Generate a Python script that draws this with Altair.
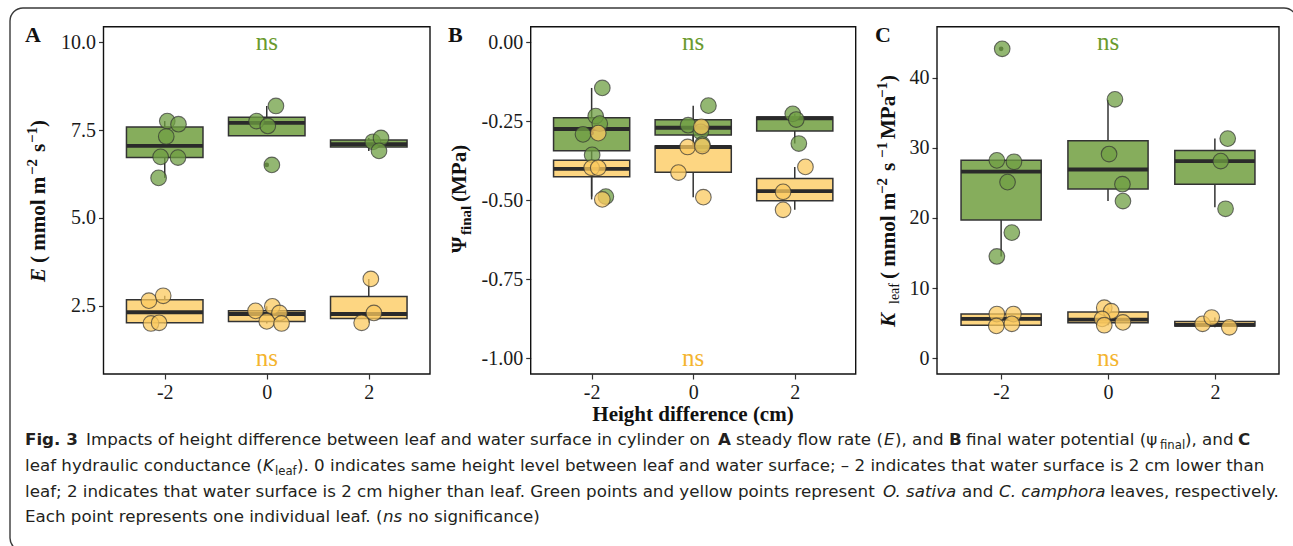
import altair as alt
import pandas as pd

W, H = 1293, 546
PLOT_TOP, PLOT_BOTTOM = 26.7, 374.0

GROUPS = [-2, 0, 2]
SPECIES = ["O. sativa", "C. camphora"]
BOX_FILL = ["#86ad5c", "#fdd682"]
POINT_FILL = ["#6f9f43", "#fbc95f"]
NS_GREEN, NS_YELLOW = "#6a9a2e", "#f4b42f"
LINE = "#333333"

BOX_GROUP = [-2, 0, 2, -2, 0, 2]
BOX_SPECIES = ["O. sativa"] * 3 + ["C. camphora"] * 3
BOX_HALF_WIDTH = 0.75

# ---------------- Panel A : E ----------------
A_LO = [6.14, 7.34, 6.91, 1.99, 1.99, 2.01]
A_Q1 = [6.72, 7.34, 7.02, 2.01, 2.05, 2.13]
A_MED = [7.05, 7.71, 7.10, 2.31, 2.26, 2.26]
A_Q3 = [7.59, 7.87, 7.22, 2.67, 2.35, 2.76]
A_HI = [7.76, 8.19, 7.28, 2.78, 2.48, 3.26]
A_PT_GROUP = [-2] * 6 + [0] * 4 + [2] * 3 + [-2] * 4 + [0] * 5 + [2] * 3
A_PT_SPECIES = ["O. sativa"] * 13 + ["C. camphora"] * 12
A_PT_JITTER = [0.05, 0.27, 0.03, -0.08, 0.26, -0.12, -0.20, 0.02, 0.18, 0.10, 0.08, 0.24, 0.20,
               -0.31, -0.03, -0.27, -0.11, -0.22, 0.11, 0.25, 0.0, 0.29, 0.04, 0.10, -0.14]
A_PT_VALUE = [7.76, 7.67, 7.32, 6.74, 6.72, 6.14, 7.76, 7.62, 8.19, 6.51, 7.17, 7.28, 6.91,
              2.64, 2.78, 1.99, 2.01, 2.35, 2.48, 2.29, 2.05, 1.99, 3.26, 2.29, 2.01]
A_OUT_GROUP = [0]
A_OUT_VALUE = [6.51]
A_TICKS = [2.5, 5.0, 7.5, 10.0]
A_NS = [10.0, 1.0]
A_DOMAIN = [0.55, 10.45]

# ---------------- Panel B : psi final ----------------
B_LO = [-0.488, -0.323, -0.320, -0.497, -0.490, -0.530]
B_Q1 = [-0.343, -0.293, -0.280, -0.425, -0.411, -0.501]
B_MED = [-0.274, -0.270, -0.240, -0.400, -0.331, -0.471]
B_Q3 = [-0.238, -0.245, -0.236, -0.373, -0.328, -0.431]
B_HI = [-0.144, -0.200, -0.226, -0.373, -0.267, -0.394]
B_PT_GROUP = [-2] * 6 + [0] * 4 + [2] * 3 + [-2] * 4 + [0] * 5 + [2] * 3
B_PT_SPECIES = ["O. sativa"] * 13 + ["C. camphora"] * 12
B_PT_JITTER = [0.21, 0.08, 0.16, -0.17, 0.01, 0.28, -0.10, 0.30, 0.15, 0.18, -0.04, 0.03, 0.08,
               0.0, 0.13, 0.13, 0.21, 0.16, -0.11, 0.18, -0.29, 0.20, 0.21, -0.23, -0.23]
B_PT_VALUE = [-0.144, -0.233, -0.257, -0.291, -0.356, -0.488, -0.262, -0.200, -0.283, -0.323,
              -0.226, -0.244, -0.320,
              -0.397, -0.397, -0.287, -0.497, -0.267, -0.331, -0.328, -0.412, -0.490,
              -0.394, -0.473, -0.530]
B_OUT_GROUP = [-2]
B_OUT_VALUE = [-0.287]
B_TICKS = [-1.0, -0.75, -0.5, -0.25, 0.0]
B_NS = [0.0, -1.0]
B_DOMAIN = [-1.05, 0.05]

# ---------------- Panel C : K leaf ----------------
C_LO = [14.5, 22.4, 21.5, 4.6, 4.7, 4.4]
C_Q1 = [19.7, 24.1, 24.8, 4.7, 5.05, 4.6]
C_MED = [26.6, 26.9, 28.1, 5.6, 5.5, 4.75]
C_Q3 = [28.2, 31.0, 29.6, 6.3, 6.6, 5.25]
C_HI = [28.2, 36.8, 31.3, 6.3, 7.2, 5.8]
C_PT_GROUP = [-2] * 6 + [0] * 4 + [2] * 3 + [-2] * 4 + [0] * 5 + [2] * 3
C_PT_SPECIES = ["O. sativa"] * 13 + ["C. camphora"] * 12
C_PT_JITTER = [0.02, -0.08, 0.24, 0.12, 0.20, -0.08, 0.13, 0.02, 0.27, 0.28, 0.24, 0.11, 0.20,
               -0.08, 0.23, -0.09, 0.20, -0.07, 0.06, -0.11, -0.07, 0.28, -0.23, -0.06, 0.27]
C_PT_VALUE = [44.1, 28.2, 28.0, 25.1, 17.9, 14.5, 36.9, 29.1, 24.8, 22.4, 31.3, 28.1, 21.3,
              6.3, 6.3, 4.6, 4.9, 7.2, 6.7, 5.6, 4.7, 5.1, 4.9, 5.8, 4.4]
C_OUT_GROUP = [-2]
C_OUT_VALUE = [44.1]
C_TICKS = [0, 10, 20, 30, 40]
C_NS = [45.0, 0.0]
C_DOMAIN = [-2.25, 47.25]

SERIF = "Liberation Serif"
CAP_FONT = "DejaVu Sans"
CAP_SIZE = 16.7
CAP_SUB = 11.7


def panel(lo, q1, med, q3, hi, pg, ps, pj, pv, og, ov, x_range, y_domain, y_ticks, y_expr, ns):
    box = pd.DataFrame({"group": BOX_GROUP, "species": BOX_SPECIES, "lo": lo, "q1": q1,
                        "med": med, "q3": q3, "hi": hi})
    box["x_lo"] = box["group"] - BOX_HALF_WIDTH
    box["x_hi"] = box["group"] + BOX_HALF_WIDTH
    pts = pd.DataFrame({"group": pg, "species": ps, "jitter": pj, "value": pv})
    pts["xpos"] = pts["group"] + pts["jitter"]
    outs = pd.DataFrame({"group": og, "value": ov})
    frame = pd.DataFrame({"x0": [-3.2], "x1": [3.2], "y0": [y_domain[0]], "y1": [y_domain[1]]})
    ns_df = pd.DataFrame({"x": [0, 0], "value": ns, "label": ["ns", "ns"]})

    xs = alt.Scale(domain=[-3.2, 3.2], range=x_range, nice=False, zero=False)
    ys = alt.Scale(domain=y_domain, range=[PLOT_BOTTOM, PLOT_TOP], nice=False, zero=False)
    ax_x = alt.Axis(values=GROUPS, labelExpr="'' + datum.value", orient="bottom",
                    offset=PLOT_BOTTOM - H, title=None, domain=False, grid=False)
    ax_y = alt.Axis(values=y_ticks, labelExpr=y_expr, orient="left", offset=-x_range[0],
                    title=None, domain=False, grid=False)

    def X(f):
        return alt.X(f, type="quantitative", scale=xs, axis=ax_x)

    def Y(f):
        return alt.Y(f, type="quantitative", scale=ys, axis=ax_y)

    whisk = alt.Chart(box).mark_rule(color=LINE, strokeWidth=1.5).encode(
        x=X("group"), y=Y("lo"), y2="hi")
    boxes = alt.Chart(box).mark_rect(stroke=LINE, strokeWidth=1.5).encode(
        x=X("x_lo"), x2="x_hi", y=Y("q1"), y2="q3",
        fill=alt.Fill("species:N", scale=alt.Scale(domain=SPECIES, range=BOX_FILL), legend=None))
    meds = alt.Chart(box).mark_rule(color="#2a2a2a", strokeWidth=3.8).encode(
        x=X("x_lo"), x2="x_hi", y=Y("med"))
    outl = alt.Chart(outs).mark_circle(size=22, color="#333333", opacity=1).encode(
        x=X("group"), y=Y("value"))
    points = alt.Chart(pts).mark_circle(size=245, stroke="#333333", strokeWidth=1.1,
                                        opacity=1, fillOpacity=0.75, strokeOpacity=0.7).encode(
        x=X("xpos"), y=Y("value"),
        color=alt.Color("species:N", scale=alt.Scale(domain=SPECIES, range=POINT_FILL), legend=None))
    ns_g = alt.Chart(ns_df.iloc[[0]]).mark_text(font=SERIF, fontSize=25, baseline="alphabetic",
                                                dy=8, color=NS_GREEN).encode(
        x=X("x"), y=Y("value"), text="label:N")
    ns_y = alt.Chart(ns_df.iloc[[1]]).mark_text(font=SERIF, fontSize=25, baseline="alphabetic",
                                                dy=8, color=NS_YELLOW).encode(
        x=X("x"), y=Y("value"), text="label:N")
    border = alt.Chart(frame).mark_rect(fillOpacity=0, stroke="#111111", strokeWidth=1.4).encode(
        x=X("x0"), x2="x1", y=Y("y0"), y2="y1")
    return alt.layer(whisk, boxes, meds, outl, points, ns_g, ns_y, border)


panel_a = panel(A_LO, A_Q1, A_MED, A_Q3, A_HI, A_PT_GROUP, A_PT_SPECIES, A_PT_JITTER, A_PT_VALUE,
                A_OUT_GROUP, A_OUT_VALUE, [103.5, 430.0], A_DOMAIN, A_TICKS,
                "format(datum.value, '.1f')", A_NS)
panel_b = panel(B_LO, B_Q1, B_MED, B_Q3, B_HI, B_PT_GROUP, B_PT_SPECIES, B_PT_JITTER, B_PT_VALUE,
                B_OUT_GROUP, B_OUT_VALUE, [530.7, 855.7], B_DOMAIN, B_TICKS,
                "(datum.value < 0 ? '-' : '') + format(abs(datum.value), '.2f')", B_NS)
panel_c = panel(C_LO, C_Q1, C_MED, C_Q3, C_HI, C_PT_GROUP, C_PT_SPECIES, C_PT_JITTER, C_PT_VALUE,
                C_OUT_GROUP, C_OUT_VALUE, [937.0, 1279.0], C_DOMAIN, C_TICKS,
                "format(datum.value, 'd')", C_NS)

# ---------------- text pieces (layout) ----------------
TEXT_PIECES = [
    (25, 42, "A", "serif_bold"), (448, 42, "B", "serif_bold"), (875, 42, "C", "serif_bold"),
    (693, 421, "Height difference (cm)", "serif_bold_center"),
]

# rotated axis-title pieces: (x_baseline, y_start, text, style)
ROT_PIECES = [
    (45, 282, "E", "bi"), (45, 263, "( mmol m", "b"), (37, 175, "\u22122", "bs"),
    (45, 152, "s", "b"), (37, 143, "\u22121", "bs"), (45, 127, ")", "b"),
    (466, 253, "\u03a8", "b"), (471, 235, "final", "bs"), (466, 202, "(MPa)", "b"),
    (895, 327, "K", "bi"), (899, 304, "leaf", "rs"), (895, 279, "( mmol m", "b"),
    (887, 194, "\u22122", "bs"), (895, 171, "s", "b"), (887, 158, "\u22121", "bs"),
    (895, 139, "MPa", "b"), (887, 98, "\u22121", "bs"), (895, 82, ")", "b"),
]

CAPTION = [
    (25, 445, "Fig. 3", "bold"),
    (86, 445, "Impacts of height difference between leaf and water surface in cylinder on", "reg"),
    (718, 445, "A", "bold"),
    (736, 445, "steady flow rate (", "reg"),
    (884, 445, "E", "ital"),
    (895, 445, "), and", "reg"),
    (949, 445, "B", "bold"),
    (966, 445, "final water potential (\u03c8", "reg"),
    (1160, 449, "final", "small"),
    (1185, 445, "), and", "reg"),
    (1238, 445, "C", "bold"),
    (25, 471, "leaf hydraulic conductance (", "reg"),
    (263, 471, "K", "ital"),
    (275, 475, "leaf", "small"),
    (297, 471, "). 0 indicates same height level between leaf and water surface; \u2013 2 indicates that water surface is 2 cm lower than", "reg"),
    (25, 497, "leaf; 2 indicates that water surface is 2 cm higher than leaf. Green points and yellow points represent", "reg"),
    (883, 497, "O. sativa", "ital"),
    (962, 497, "and", "reg"),
    (999, 497, "C. camphora", "ital"),
    (1110, 497, "leaves, respectively.", "reg"),
    (25, 522, "Each point represents one individual leaf. (", "reg"),
    (383, 522, "ns", "ital"),
    (408, 522, "no significance)", "reg"),
]


def text_layer(pieces, style, **mark):
    df = pd.DataFrame([p for p in pieces if p[3] == style], columns=["x", "y", "text", "style"])
    return alt.Chart(df).mark_text(**mark).encode(
        x=alt.X("x:Q", scale=None, axis=None), y=alt.Y("y:Q", scale=None, axis=None),
        text="text:N")


labels = [
    text_layer(TEXT_PIECES, "serif_bold", font=SERIF, fontSize=22, fontWeight="bold",
               align="left", baseline="alphabetic", color="#111111"),
    text_layer(TEXT_PIECES, "serif_bold_center", font=SERIF, fontSize=21, fontWeight="bold",
               align="center", baseline="alphabetic", color="#111111"),
    text_layer(ROT_PIECES, "b", font=SERIF, fontSize=21, fontWeight="bold", angle=270,
               align="left", baseline="alphabetic", color="#111111"),
    text_layer(ROT_PIECES, "bi", font=SERIF, fontSize=21, fontWeight="bold", fontStyle="italic",
               angle=270, align="left", baseline="alphabetic", color="#111111"),
    text_layer(ROT_PIECES, "bs", font=SERIF, fontSize=15, fontWeight="bold", angle=270,
               align="left", baseline="alphabetic", color="#111111"),
    text_layer(ROT_PIECES, "rs", font=SERIF, fontSize=14, angle=270,
               align="left", baseline="alphabetic", color="#111111"),
    text_layer(CAPTION, "reg", font=CAP_FONT, fontSize=CAP_SIZE, align="left",
               baseline="alphabetic", color="#231f20"),
    text_layer(CAPTION, "bold", font=CAP_FONT, fontSize=CAP_SIZE, fontWeight="bold",
               align="left", baseline="alphabetic", color="#231f20"),
    text_layer(CAPTION, "ital", font=CAP_FONT, fontSize=CAP_SIZE, fontStyle="italic",
               align="left", baseline="alphabetic", color="#231f20"),
    text_layer(CAPTION, "small", font=CAP_FONT, fontSize=CAP_SUB, align="left",
               baseline="alphabetic", color="#231f20"),
]

outer = alt.Chart(pd.DataFrame({"k": [0]})).mark_rect(
    fillOpacity=0, stroke="#3a3a3a", strokeWidth=1.4, cornerRadius=13).encode(
    x=alt.value(10), x2=alt.value(1297), y=alt.value(8), y2=alt.value(551))

chart = alt.layer(outer, panel_a, panel_b, panel_c, *labels).resolve_scale(
    x="independent", y="independent"
).properties(
    width=W, height=H, padding=0, autosize=alt.AutoSizeParams(type="none"),
    background="white"
).configure_view(stroke=None).configure_axis(
    labelFont=SERIF, labelFontSize=20, labelColor="#1a1a1a", tickColor="#333333",
    tickSize=5, tickWidth=1.2, labelPadding=3, domain=False, grid=False
)

chart.save("out.html", embed_options={"renderer": "svg", "actions": False})
